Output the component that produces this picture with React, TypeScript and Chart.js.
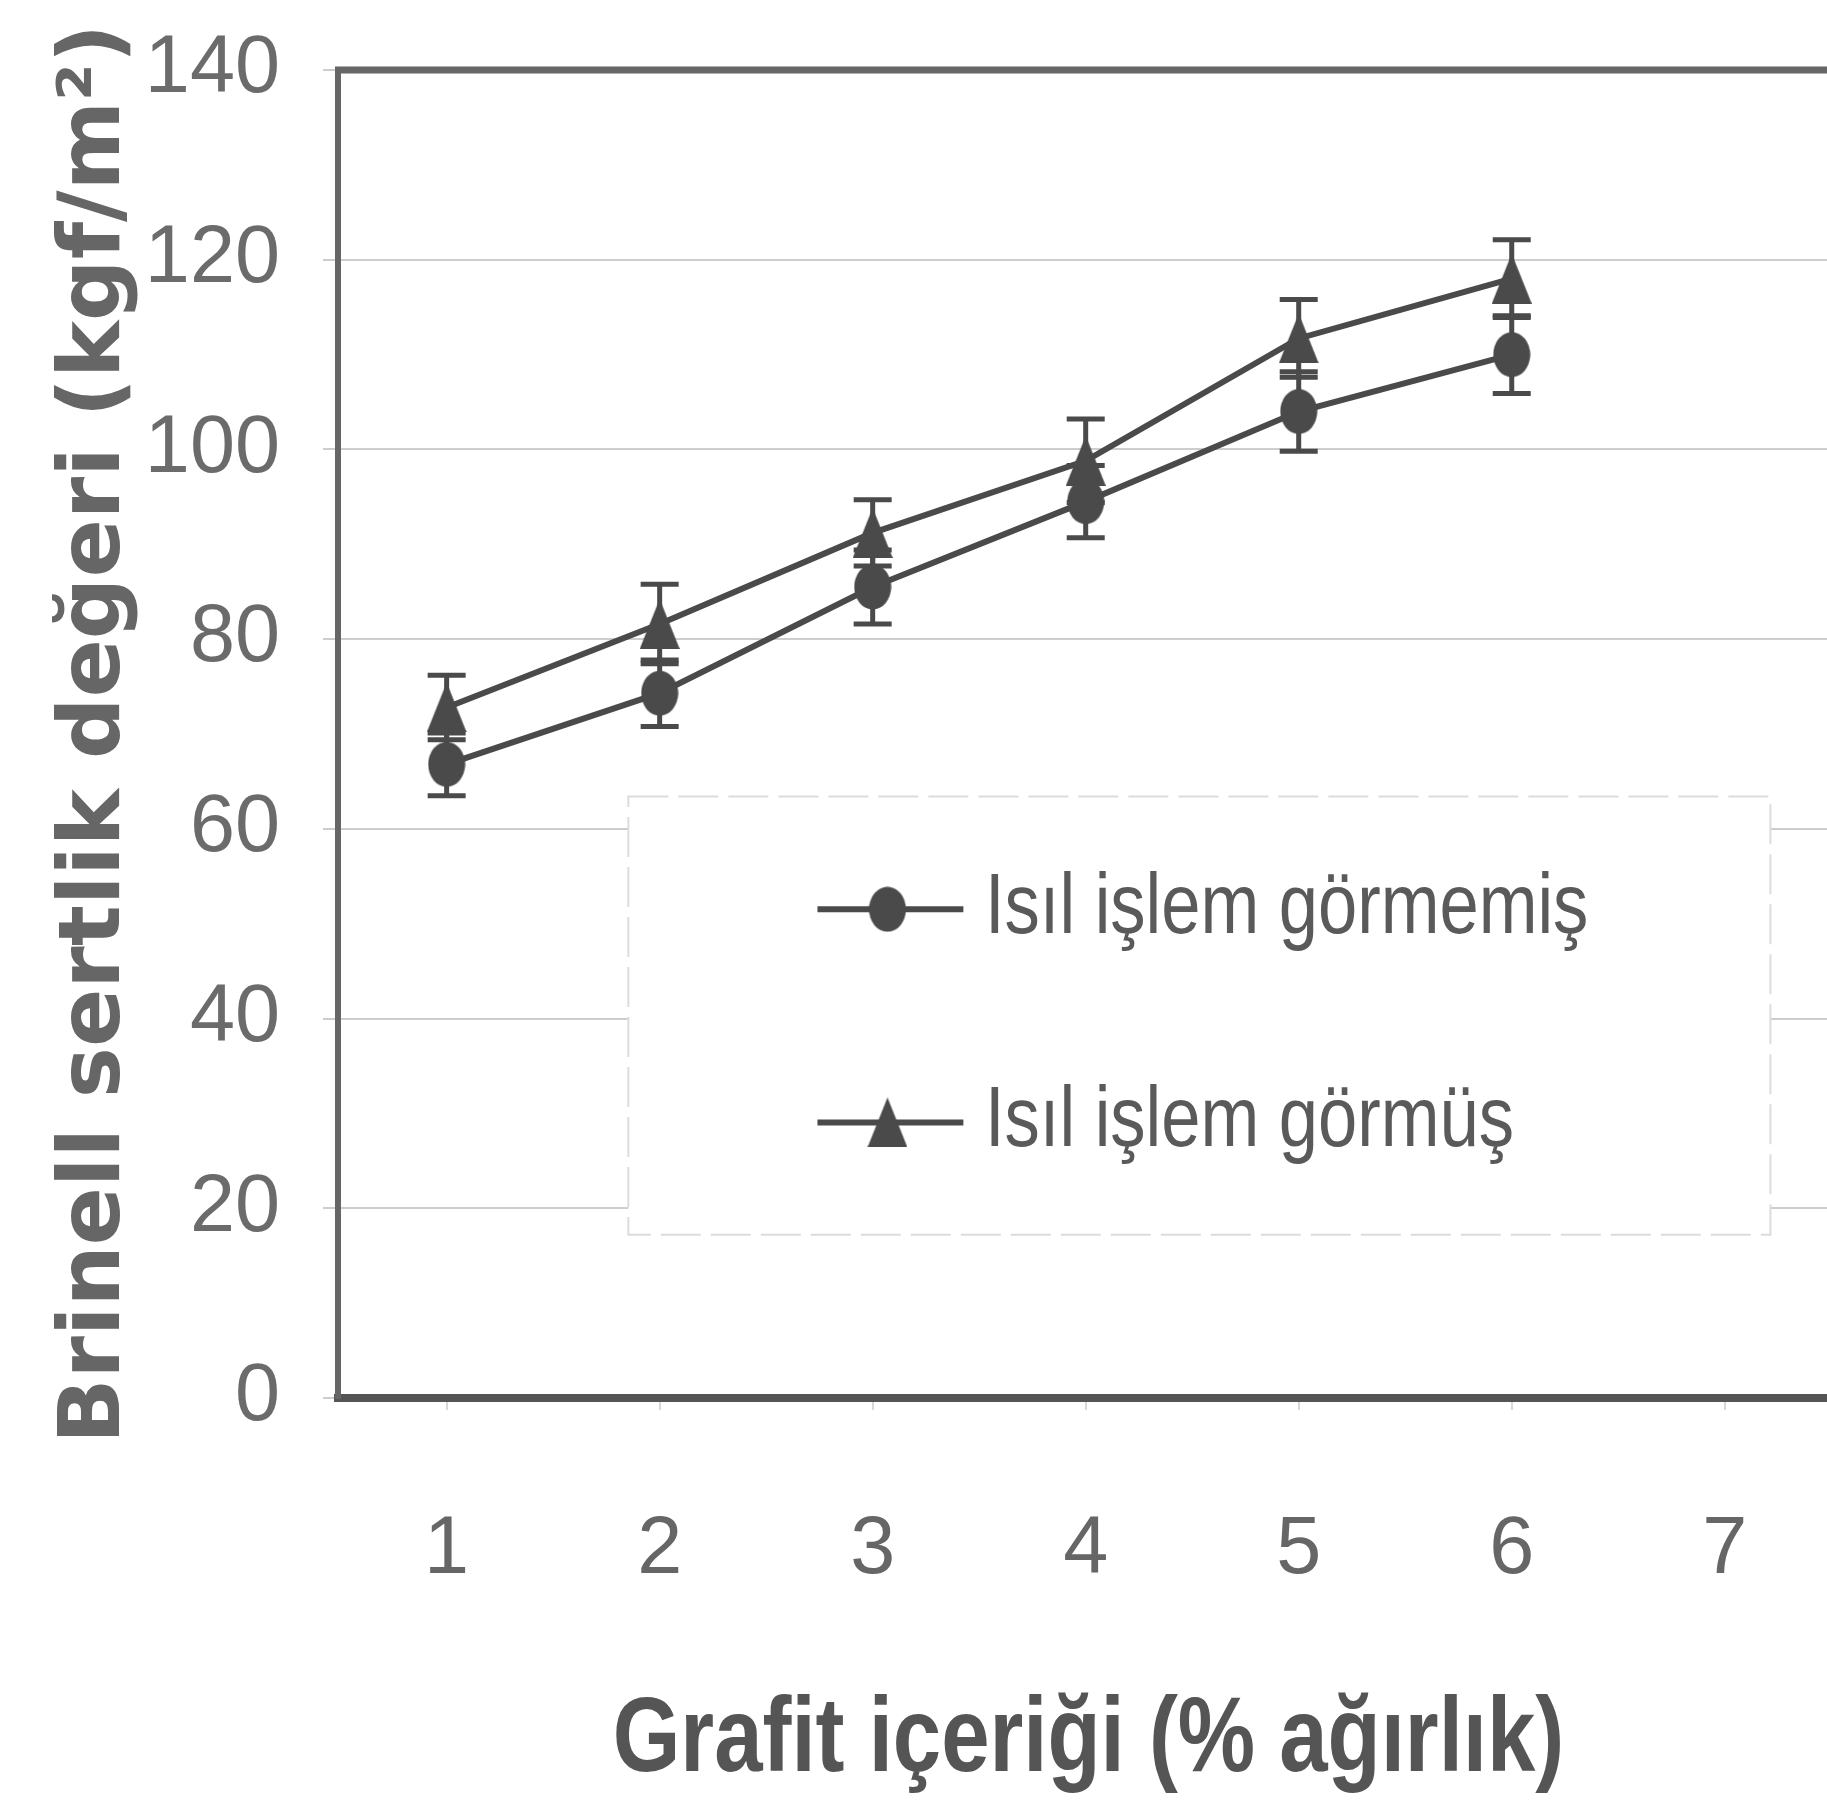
import React, { useEffect, useRef } from "react";
import { Chart, registerables } from "chart.js";

Chart.register(...registerables);

// ---- data ----
const xValues = [1, 2, 3, 4, 5, 6];
const xTickValues = [1, 2, 3, 4, 5, 6, 7];
const xTickLabels = ["1", "2", "3", "4", "5", "6", "7"];
const yTickValues = [0, 20, 40, 60, 80, 100, 120, 140];
const yTickLabels = ["0", "20", "40", "60", "80", "100", "120", "140"];
const seriesNames = ["Isıl işlem görmemiş", "Isıl işlem görmüş"];
const untreated = [66.8, 74.3, 85.5, 94.5, 104.0, 110.0];
const untreatedErr = [3.3, 3.5, 3.9, 3.8, 4.2, 4.1];
const treated = [72.8, 81.6, 91.2, 98.8, 111.7, 118.0];
const treatedErr = [3.4, 4.2, 3.5, 4.4, 4.1, 4.1];
const xTitle = "Grafit içeriği (% ağırlık)";
const yTitle = "Brinell sertlik değeri (kgf/m²)";

const INK = "#4a4a4a";

function makeEllipse(w: number, h: number, color: string) {
  const c = document.createElement("canvas");
  c.width = w;
  c.height = h;
  const g = c.getContext("2d")!;
  g.fillStyle = color;
  g.beginPath();
  g.ellipse(w / 2, h / 2, w / 2 - 0.5, h / 2 - 0.5, 0, 0, Math.PI * 2);
  g.fill();
  return c;
}

function makeTriangle(w: number, h: number, color: string) {
  const c = document.createElement("canvas");
  c.width = w;
  c.height = h;
  const g = c.getContext("2d")!;
  g.fillStyle = color;
  g.beginPath();
  g.moveTo(w / 2, 0);
  g.lineTo(w, h);
  g.lineTo(0, h);
  g.closePath();
  g.fill();
  return c;
}

// draws horizontally condensed text (narrow face look)
function narrowText(ctx: any, text: string, x: number, y: number, sx: number, align: string) {
  ctx.save();
  ctx.translate(x, y);
  ctx.scale(sx, 1);
  ctx.textAlign = align;
  ctx.fillText(text, 0, 0);
  ctx.restore();
}

export default function App() {
  const ref = useRef<HTMLCanvasElement>(null);

  useEffect(() => {
    const circle = makeEllipse(38, 46, INK);
    const tri = makeTriangle(40, 50, INK);
    const markers = [circle, tri];
    const errs = [untreatedErr, treatedErr];

    const decor = {
      id: "decor",
      beforeDatasetsDraw(chart: any) {
        const { ctx, chartArea: ca, scales } = chart;
        const { x, y } = scales;
        const w = ca.right - ca.left;
        const h = ca.bottom - ca.top;
        ctx.save();
        // top frame line
        ctx.strokeStyle = "#666";
        ctx.lineWidth = 7;
        ctx.beginPath();
        ctx.moveTo(ca.left - 3, ca.top);
        ctx.lineTo(ca.right, ca.top);
        ctx.stroke();
        // legend box
        const bl = ca.left + 0.195 * w;
        const br = ca.left + 0.962 * w;
        const bt = ca.top + 0.547 * h;
        const bb = ca.top + 0.877 * h;
        ctx.fillStyle = "#ffffff";
        ctx.fillRect(bl, bt, br - bl, bb - bt);
        ctx.strokeStyle = "#dcdcdc";
        ctx.lineWidth = 2;
        ctx.setLineDash([40, 10]);
        ctx.strokeRect(bl, bt, br - bl, bb - bt);
        ctx.setLineDash([]);
        // error bars
        ctx.strokeStyle = INK;
        ctx.lineWidth = 5;
        chart.data.datasets.forEach((ds: any, i: number) => {
          ds.data.forEach((pt: any, j: number) => {
            const px = x.getPixelForValue(pt.x);
            const t = y.getPixelForValue(pt.y + errs[i][j]);
            const b = y.getPixelForValue(pt.y - errs[i][j]);
            ctx.beginPath();
            ctx.moveTo(px, t);
            ctx.lineTo(px, b);
            ctx.moveTo(px - 19, t);
            ctx.lineTo(px + 19, t);
            ctx.moveTo(px - 19, b);
            ctx.lineTo(px + 19, b);
            ctx.stroke();
          });
        });
        ctx.restore();
      },
      afterDatasetsDraw(chart: any) {
        const { ctx, chartArea: ca } = chart;
        const w = ca.right - ca.left;
        const h = ca.bottom - ca.top;
        const ys = [0.632, 0.7925];
        ctx.save();
        seriesNames.forEach((name, i) => {
          const yy = ca.top + ys[i] * h;
          const x0 = ca.left + 0.322 * w;
          const x1 = ca.left + 0.42 * w;
          const xm = ca.left + 0.369 * w;
          ctx.strokeStyle = INK;
          ctx.lineWidth = 6;
          ctx.beginPath();
          ctx.moveTo(x0, yy);
          ctx.lineTo(x1, yy);
          ctx.stroke();
          const m = markers[i];
          ctx.drawImage(m, xm - m.width / 2, yy - m.height / 2);
          ctx.fillStyle = "#5a5a5a";
          ctx.font = "86px 'Liberation Sans', Arial, sans-serif";
          ctx.textBaseline = "alphabetic";
          narrowText(ctx, name, ca.left + 0.4345 * w, yy + 24, 0.82, "left");
        });
        // x axis title (condensed bold)
        ctx.fillStyle = "#555";
        ctx.font = "bold 106px 'Liberation Sans', Arial, sans-serif";
        ctx.textBaseline = "alphabetic";
        narrowText(ctx, xTitle, (ca.left + ca.right) / 2 + 6, chart.height - 32, 0.82, "center");
        ctx.restore();
      },
    };

    const chart = new Chart(ref.current!, {
      type: "line",
      data: {
        datasets: [
          {
            label: seriesNames[0],
            data: xValues.map((v, i) => ({ x: v, y: untreated[i] })),
            borderColor: INK,
            backgroundColor: INK,
            borderWidth: 6,
            pointStyle: circle as any,
            pointRadius: 19,
            tension: 0,
          },
          {
            label: seriesNames[1],
            data: xValues.map((v, i) => ({ x: v, y: treated[i] })),
            borderColor: INK,
            backgroundColor: INK,
            borderWidth: 6,
            pointStyle: tri as any,
            pointRadius: 19,
            tension: 0,
          },
        ],
      },
      options: {
        animation: false,
        responsive: false,
        devicePixelRatio: 1,
        layout: { autoPadding: false, padding: { top: 70, left: 0, right: 0, bottom: 0 } },
        plugins: {
          legend: { display: false },
          tooltip: { enabled: false },
        },
        scales: {
          x: {
            type: "linear",
            min: 0.49,
            max: 7.48,
            afterBuildTicks: (s: any) => {
              s.ticks = xTickValues.map((v) => ({ value: v }));
            },
            afterFit: (s: any) => {
              s.height = 405;
              s.paddingLeft = 0;
              s.paddingRight = 0;
            },
            grid: {
              drawOnChartArea: false,
              drawTicks: true,
              tickLength: 12,
              color: "#d8d8d8",
              lineWidth: 2,
            },
            border: { display: true, color: "#555", width: 8 },
            ticks: {
              color: "#666",
              font: { family: "'Liberation Sans', Arial, sans-serif", size: 81 },
              padding: 92,
              maxRotation: 0,
              callback: (_v: any, i: number) => xTickLabels[i],
            },
          },
          y: {
            min: 0,
            max: 140,
            afterBuildTicks: (s: any) => {
              s.ticks = yTickValues.map((v) => ({ value: v }));
            },
            afterFit: (s: any) => {
              s.width = 338;
              s.paddingTop = 0;
              s.paddingBottom = 0;
            },
            grid: {
              color: "#cdcdcd",
              lineWidth: 2,
              drawTicks: true,
              tickLength: 15,
            },
            border: { display: true, color: "#666", width: 6 },
            ticks: {
              color: "#6b6b6b",
              font: { family: "'Liberation Sans', Arial, sans-serif", size: 81 },
              padding: 43,
              callback: (_v: any, i: number) => yTickLabels[i],
            },
            title: {
              display: true,
              text: yTitle,
              color: "#666",
              font: { family: "'DejaVu Sans', sans-serif", weight: "bold", size: 86 },
              padding: { top: 45, bottom: 0 },
            },
          },
        },
      },
      plugins: [decor],
    } as any);

    return () => chart.destroy();
  }, []);

  return (
    <div
      style={{
        position: "absolute",
        left: 0,
        top: 0,
        width: 1827,
        height: 1803,
        background: "#ffffff",
      }}
    >
      <canvas
        ref={ref}
        width={1827}
        height={1803}
        style={{ display: "block", width: 1827, height: 1803 }}
      />
    </div>
  );
}
